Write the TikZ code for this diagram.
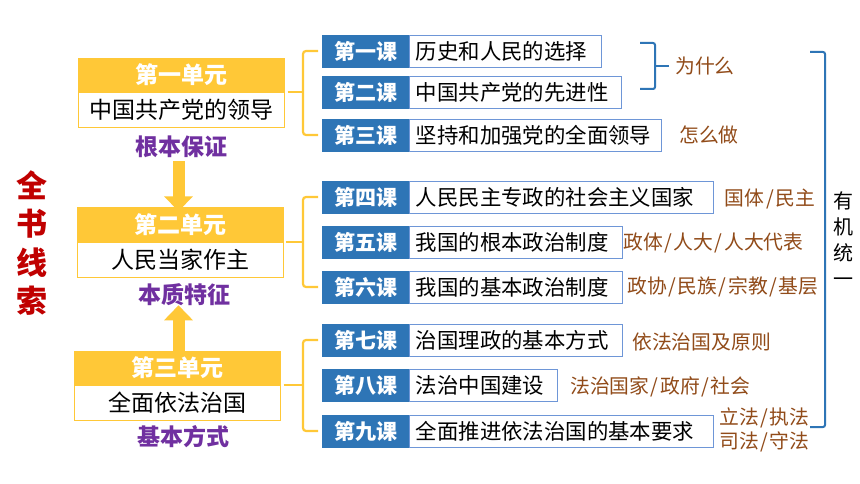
\documentclass[tikz,border=0pt]{standalone}
\usepackage{fontspec}
\setmainfont{Noto Sans CJK SC}
\usetikzlibrary{arrows.meta,calc}
\definecolor{uyel}{RGB}{255,200,55}
\definecolor{lblue}{RGB}{46,117,182}
\definecolor{lbord}{RGB}{110,150,215}
\definecolor{brn}{RGB}{145,75,25}
\definecolor{purp}{RGB}{112,48,160}
\definecolor{rd}{RGB}{192,0,0}
\newcommand{\sls}{\kern1.6pt/\kern1.6pt}
\begin{document}
\begin{tikzpicture}[x=1pt,y=-1pt,
 uhead/.style={fill=uyel,draw=uyel,minimum width=206pt,minimum height=34pt,inner sep=0pt,text=white,font=\fontsize{23}{26}\selectfont\bfseries},
 ubody/.style={fill=white,draw=uyel,line width=0.8pt,minimum width=206pt,minimum height=35pt,inner sep=0pt,font=\fontsize{23}{26}\selectfont,anchor=north},
 ulab/.style={text=purp,font=\fontsize{23}{26}\selectfont\bfseries,inner sep=0pt},
 lhead/.style={fill=lblue,draw=lblue,minimum width=87pt,minimum height=32pt,inner sep=0pt,text=white,font=\fontsize{21}{24}\selectfont\bfseries,anchor=west},
 lbody/.style={draw=lbord,line width=0.9pt,fill=white,minimum height=32pt,inner xsep=6pt,inner ysep=0pt,anchor=west,align=left,font=\fontsize{21.4}{24}\selectfont},
 note/.style={text=brn,font=\fontsize{19.8}{24}\selectfont,inner sep=0pt},
 ybr/.style={draw=uyel,line width=2.2pt,rounded corners=3pt},
 bbr/.style={draw=lblue,line width=2pt,rounded corners=2pt},
 barrow/.style={draw=uyel,line width=12pt,-{Triangle[width=28pt,length=15pt]}}
]
\fill[white] (0,0) rectangle (860,484);
\useasboundingbox (0,0) rectangle (860,484);

% title
\node[text=rd,font=\fontsize{31}{38.5}\selectfont\bfseries,align=center,inner sep=0pt] (title) at (32,243) {全\\书\\线\\索};

% units
\node[uhead] (u1h) at (181.5,75) {第一单元};
\node[ubody] (u1b) at (u1h.south) {中国共产党的领导};
\node[ulab] (lab1) at (181,147) {根本保证};
\node[uhead] (u2h) at (180,224.5) {第二单元};
\node[ubody] (u2b) at (u2h.south) {人民当家作主};
\node[ulab] (lab2) at (184,295) {本质特征};
\node[uhead] (u3h) at (177.5,368) {第三单元};
\node[ubody] (u3b) at (u3h.south) {全面依法治国};
\node[ulab] (lab3) at (183,437) {基本方式};

\coordinate (ax) at (178.5,0);
\draw[barrow,shorten <=3pt,shorten >=-4pt] (lab1.south -| ax) -- (u2h.north -| ax);
\draw[barrow,shorten <=-4pt,shorten >=-1pt] (u3h.north -| ax) -- (lab2.south -| ax);

% lessons
\node[lhead] (c1h) at (322,51) {第一课};
\node[lbody,text width=180pt] (c1b) at (c1h.east) {历史和人民的选择};
\node[lhead] (c2h) at (322,92) {第二课};
\node[lbody,text width=200pt] (c2b) at (c2h.east) {中国共产党的先进性};
\node[lhead] (c3h) at (322,135) {第三课};
\node[lbody,text width=240pt] (c3b) at (c3h.east) {坚持和加强党的全面领导};

\node[lhead] (c4h) at (322,197) {第四课};
\node[lbody,text width=292pt] (c4b) at (c4h.east) {人民民主专政的社会主义国家};
\node[lhead] (c5h) at (322,242) {第五课};
\node[lbody,text width=201pt] (c5b) at (c5h.east) {我国的根本政治制度};
\node[lhead] (c6h) at (322,287) {第六课};
\node[lbody,text width=201pt] (c6b) at (c6h.east) {我国的基本政治制度};

\node[lhead] (c7h) at (322,340) {第七课};
\node[lbody,text width=201pt] (c7b) at (c7h.east) {治国理政的基本方式};
\node[lhead] (c8h) at (322,385) {第八课};
\node[lbody,text width=136pt] (c8b) at (c8h.east) {法治中国建设};
\node[lhead] (c9h) at (322,431) {第九课};
\node[lbody,text width=292pt] (c9b) at (c9h.east) {全面推进依法治国的基本要求};

% yellow brackets
\draw[ybr] ([xshift=-4pt]c1h.west) -- ++(-15,0) |- ([xshift=-4pt]c3h.west);
\draw[ybr] ([xshift=3pt]u1h.south east) -- ([xshift=-19pt]c1h.west |- u1h.south east);
\draw[ybr] ([xshift=-4pt]c4h.west) -- ++(-15,0) |- ([xshift=-4pt]c6h.west);
\draw[ybr] ([xshift=3pt]u2h.south east) -- ([xshift=-19pt]c4h.west |- u2h.south east);
\draw[ybr] ([xshift=-4pt]c7h.west) -- ++(-15,0) |- ([xshift=-4pt]c9h.west);
\draw[ybr] ([xshift=3pt]u3h.south east) -- ([xshift=-19pt]c7h.west |- u3h.south east);

% notes
\node[note] (n1) at (705,66) {为什么};
\node[note] (n2) at (709,135) {怎么做};
\node[note] (n3) at (770,199) {国体\sls 民主};
\node[note,anchor=west] (n4) at (623,243) {政体\sls 人大\sls 人大代表};
\node[note,anchor=west] (n5) at (627,287) {政协\sls 民族\sls 宗教\sls 基层};
\node[note,anchor=west] (n6) at (632,342) {依法治国及原则};
\node[note,anchor=west] (n7) at (570,387) {法治国家\sls 政府\sls 社会};
\node[note,anchor=west,align=left] (n8) at (719,430) {立法\sls 执法\\司法\sls 守法};

% blue brackets
\draw[bbr] (640,43) -| (655,89) -- (640,89);
\draw[bbr] ([xshift=-6pt]n1.west) -- (655,66);
\draw[bbr] (810,52) -| (825,427) -- (810,427);
\node[font=\fontsize{20}{26}\selectfont,align=center,inner sep=0pt] (yj) at (843,239) {有\\机\\统\\一};
\draw[bbr] (825,240) -- ([xshift=-9pt]yj.west |- 0,240);
\end{tikzpicture}
\end{document}
